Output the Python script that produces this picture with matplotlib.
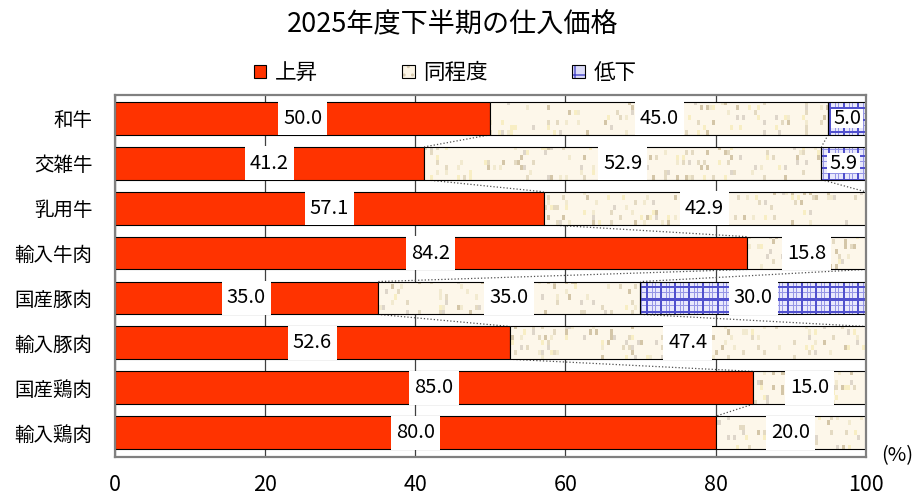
import numpy as np
import matplotlib
matplotlib.use("Agg")
import matplotlib.pyplot as plt
from matplotlib.patches import Patch, Rectangle
from matplotlib.legend_handler import HandlerTuple

plt.rcParams['font.family'] = ['Noto Sans CJK JP', 'DejaVu Sans']

title = "2025年度下半期の仕入価格"
categories = ["和牛", "交雑牛", "乳用牛", "輸入牛肉", "国産豚肉", "輸入豚肉", "国産鶏肉", "輸入鶏肉"]
series_names = ["上昇", "同程度", "低下"]
rise = [50.0, 41.2, 57.1, 84.2, 35.0, 52.6, 85.0, 80.0]
same = [45.0, 52.9, 42.9, 15.8, 35.0, 47.4, 15.0, 20.0]
fall = [5.0, 5.9, 0.0, 0.0, 30.0, 0.0, 0.0, 0.0]
xticks = [0, 20, 40, 60, 80, 100]

RED = "#FF3300"
BEIGE = "#FCF5E6"
LAVENDER = "#DCDCF8"
BAR_H = 0.73

fig = plt.figure(figsize=(9.19, 4.95), dpi=100)
ax = fig.add_axes([0.125, 0.077, 0.817, 0.731])

y = np.arange(len(categories))
ylim = (len(categories) - 0.46, -0.52)


def speckle_texture(h, w, seed=11):
    rng = np.random.default_rng(seed)
    img = np.ones((h, w, 3)) * np.array([253, 247, 234]) / 255
    cols = np.array([[212, 198, 168], [228, 218, 194], [242, 234, 208],
                     [248, 238, 196], [222, 214, 202]]) / 255
    ch, cw = 5, 3
    for r in range(0, h, ch):
        for c in range(0, w, cw):
            if rng.random() < 0.14:
                img[r:r + ch, c:c + cw] = cols[rng.integers(len(cols))]
    return img


def plaid_texture(h, w):
    img = np.ones((h, w, 3)) * np.array([232, 232, 252]) / 255
    dark = np.array([80, 80, 205]) / 255
    mid = np.array([150, 150, 230]) / 255
    for x in range(w):
        m = x % 14
        if m in (0, 1):
            img[:, x] = dark
        elif m in (6, 9):
            img[:, x] = mid
    for yy in range(h):
        m = yy % 12
        if m in (0, 1):
            img[yy, :] = dark
        elif m == 6:
            img[yy, :] = np.minimum(img[yy, :], mid)
    return img


H_PX, W_PX = 362, 751
tex_same = speckle_texture(H_PX, W_PX)
tex_fall = plaid_texture(H_PX, W_PX)
extent = (0, 100, ylim[0], ylim[1])

left_same = np.array(rise)
left_fall = np.array(rise) + np.array(same)

bars_rise = ax.barh(y, rise, height=BAR_H, color=RED, edgecolor="black", lw=0.8, zorder=2)
bars_same = ax.barh(y, same, left=left_same, height=BAR_H, color=BEIGE, edgecolor="none", zorder=2)
bars_fall = ax.barh(y, fall, left=left_fall, height=BAR_H, color=LAVENDER, edgecolor="none", zorder=2)

for bars, tex, vals in ((bars_same, tex_same, same), (bars_fall, tex_fall, fall)):
    for p, v in zip(bars, vals):
        if v <= 0:
            continue
        im = ax.imshow(tex, extent=extent, aspect="auto", interpolation="nearest", zorder=2.1)
        im.set_clip_path(p)

# outlines on top of the textured segments
ax.barh(y, same, left=left_same, height=BAR_H, fill=False, edgecolor="black", lw=0.8, zorder=2.2)
ax.barh(y, fall, left=left_fall, height=BAR_H, fill=False, edgecolor="black", lw=0.8, zorder=2.2)

# series lines joining the segment boundaries of neighbouring bars
for bounds in (left_same, left_fall):
    for i in range(len(categories) - 1):
        ax.plot([bounds[i], bounds[i + 1]], [i + BAR_H / 2, i + 1 - BAR_H / 2],
                ls=":", color="#505050", lw=0.9, zorder=1.5)

ax.set_xlim(0, 100)
ax.set_ylim(*ylim)
ax.set_xticks(xticks)
ax.set_xticklabels([str(t) for t in xticks], fontsize=15.5)
ax.set_yticks(y)
ax.set_yticklabels(categories, fontsize=14)
ax.tick_params(axis="x", length=0, pad=12)
ax.tick_params(axis="y", length=0, pad=16)
ax.xaxis.grid(True, color="#404040", lw=0.9)
ax.set_axisbelow(True)
for s in ax.spines.values():
    s.set_color("#808080")
    s.set_linewidth(1.6)

# value labels with white boxes
labels = []
for vals, lefts in ((rise, np.zeros(len(rise))), (same, left_same), (fall, left_fall)):
    for i, (v, l) in enumerate(zip(vals, lefts)):
        if v <= 0:
            continue
        t = ax.text(l + v / 2, i, f"{v:.1f}", ha="center", va="center",
                    fontsize=14.5, color="black", zorder=4)
        labels.append((t, i, v))

fig.canvas.draw()
renderer = fig.canvas.get_renderer()
inv = ax.transData.inverted()
for t, i, v in labels:
    bb = t.get_window_extent(renderer)
    pad = 5 if v >= 10 else 2
    x0 = inv.transform((bb.x0 - pad, 0))[0]
    x1 = inv.transform((bb.x1 + pad, 0))[0]
    if v >= 10:
        ax.add_patch(Rectangle((x0, i - BAR_H / 2 - 0.015), x1 - x0, BAR_H + 0.03,
                               facecolor="white", edgecolor="none", zorder=3))
    else:
        ax.add_patch(Rectangle((x0, i - 0.22), x1 - x0, 0.44,
                               facecolor="white", edgecolor="none", zorder=3))

# legend
h_rise = Patch(facecolor=RED, edgecolor="black", lw=0.8)
h_same = (Patch(facecolor=BEIGE, edgecolor="#D8CBB0", hatch="..", lw=0),
          Patch(fill=False, edgecolor="black", lw=0.8))
h_fall = (Patch(facecolor=LAVENDER, edgecolor="#4646C8", hatch="+", lw=0),
          Patch(fill=False, edgecolor="black", lw=0.8))
fig.legend([h_rise, h_same, h_fall], series_names, loc="center",
           bbox_to_anchor=(445 / 919, 1 - 73 / 495), ncol=3, frameon=False,
           fontsize=15.5, handlelength=0.6, handleheight=0.6, handletextpad=0.4,
           columnspacing=3.9, handler_map={tuple: HandlerTuple(ndivide=1)})

fig.text(453 / 919, 1 - 25 / 495, title, ha="center", va="center", fontsize=19.5)
fig.text(897 / 919, 1 - 456 / 495, "(%)", ha="center", va="center", fontsize=14.5)

fig.savefig("out.png", dpi=100)
